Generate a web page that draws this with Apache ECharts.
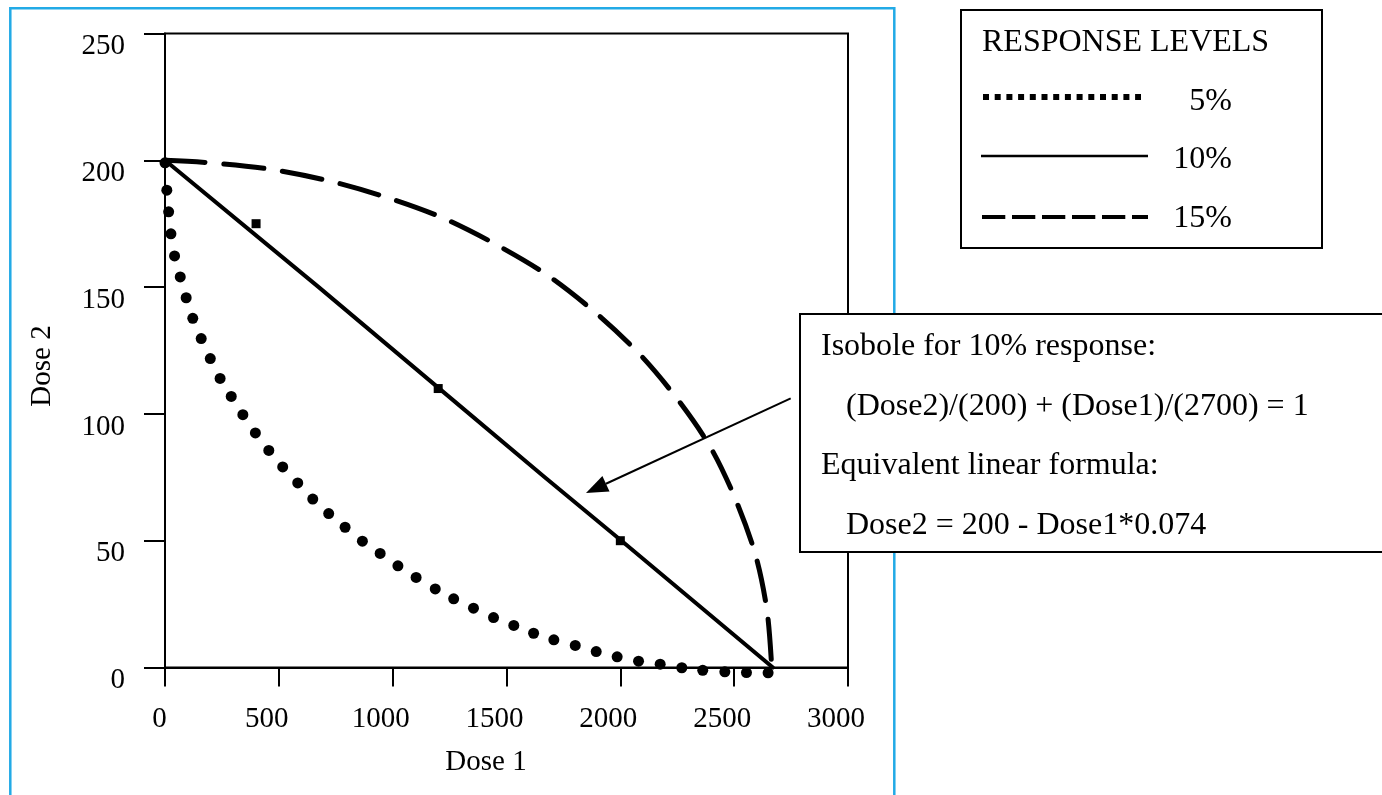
<!DOCTYPE html>
<html><head><meta charset="utf-8">
<script src="https://cdn.jsdelivr.net/npm/echarts@6/dist/echarts.min.js"></script>
<style>html,body{margin:0;padding:0;background:#fff;}#chart{width:1382px;height:795px;}</style>
</head><body><div id="chart"></div>
<script>
// ---- data ----
const xTicks = [0, 500, 1000, 1500, 2000, 2500, 3000];
const yTicks = [0, 50, 100, 150, 200, 250];
const xTitle = 'Dose 1';
const yTitle = 'Dose 2';
const legendTitle = 'RESPONSE LEVELS';
const seriesNames = ['5%', '10%', '15%'];

// 5% isobole (dotted)
const resp5 = [[0,199],[8,188.2],[16,179.7],[26,171],[42,162.3],[67,154],[93,145.8],[122,137.7],[159,129.7],[199,121.8],[242,114],[291,106.9],[342,99.7],[397,92.5],[456,85.6],[517,79.1],[583,72.8],[649,66.4],[719,60.7],[791,55.3],[867,49.8],[945,45],[1023,40.1],[1103,35.5],[1187,31],[1268,27.1],[1355,23.4],[1443,19.7],[1532,16.6],[1619,13.5],[1708,10.9],[1802,8.7],[1894,6.3],[1986,4.2],[2080,2.5],[2175,1.3],[2270,-0.1],[2362,-1.1],[2459,-1.7],[2554,-2],[2649,-2.1]];
// 10% isobole (solid)
const resp10 = [[0,200],[675,150],[1337,100],[1668,75],[2005,50],[2670,0]];
// observed points near the 10% line
const obs10 = [[400,175],[1200,110],[2000,50]];
// 15% isobole (dashed)
const resp15 = [[0,200],[200,199],[460,196.5],[715,192],[970,185.5],[1215,177.5],[1450,167],[1675,155],[1890,140],[2080,124],[2245,106.5],[2395,87],[2505,66.5],[2595,44],[2645,22],[2665,0]];

const noteLines = ['Isobole for 10% response:', '(Dose2)/(200) + (Dose1)/(2700) = 1', 'Equivalent linear formula:', 'Dose2 = 200 - Dose1*0.074'];

// ---- chart ----
const FONT = '"Liberation Serif", "Times New Roman", serif';
const chart = echarts.init(document.getElementById('chart'), null, {renderer: 'canvas'});

function txt(text, x, y, size, align, extra) {
  return Object.assign({
    type: 'text', x: x, y: y, z: 120,
    style: {text: text, fontSize: size, fontFamily: FONT, fill: '#000',
      align: align, textAlign: align, verticalAlign: 'middle', textVerticalAlign: 'middle'}
  }, extra || {});
}

const tip = [586, 493], tail = [790.7, 398.3];
const dx = tail[0] - tip[0], dy = tail[1] - tip[1], L = Math.hypot(dx, dy);
const ux = dx / L, uy = dy / L, ah = 22, aw = 8.5;
const bx = tip[0] + ux * ah, by = tip[1] + uy * ah;

const option = {
  animation: false,
  backgroundColor: '#fff',
  grid: {left: 165, top: 33.5, width: 683, height: 634, show: true, borderColor: '#000', borderWidth: 2, backgroundColor: 'transparent'},
  xAxis: {
    type: 'value', min: xTicks[0], max: xTicks[xTicks.length - 1], interval: xTicks[1] - xTicks[0],
    axisLine: {show: true, onZero: false, lineStyle: {color: '#000', width: 2}},
    axisTick: {show: true, inside: false, length: 19, lineStyle: {color: '#000', width: 2}},
    splitLine: {show: false},
    axisLabel: {color: '#000', fontSize: 29, fontFamily: FONT, margin: 52, verticalAlign: 'middle', padding: [0, 24, 0, 0],
      formatter: v => v === 0 ? '{z|0}' : String(v),
      rich: {z: {color: '#000', fontSize: 29, fontFamily: FONT, padding: [0, 0, 0, 13]}}}
  },
  yAxis: {
    type: 'value', min: yTicks[0], max: yTicks[yTicks.length - 1], interval: yTicks[1] - yTicks[0],
    axisLine: {show: true, onZero: false, lineStyle: {color: '#000', width: 2}},
    axisTick: {show: true, inside: false, length: 21, lineStyle: {color: '#000', width: 2}},
    splitLine: {show: false},
    axisLabel: {color: '#000', fontSize: 29, fontFamily: FONT, margin: 40, verticalAlign: 'top', lineHeight: 26,
      formatter: v => String(v)}
  },
  series: [
    {name: seriesNames[0], type: 'line', data: resp5, clip: false, silent: true,
      symbol: 'circle', symbolSize: 11, showSymbol: true, showAllSymbol: true,
      itemStyle: {color: '#000'}, lineStyle: {width: 0, opacity: 0}, z: 3},
    {name: seriesNames[1], type: 'line', data: resp10, clip: false, silent: true, symbol: 'none',
      lineStyle: {color: '#000', width: 4, cap: 'round', join: 'round'}, z: 4},
    {name: 'observed', type: 'scatter', data: obs10, silent: true, symbol: 'rect', symbolSize: 9,
      itemStyle: {color: '#000', opacity: 1}, z: 5},
    {name: seriesNames[2], type: 'line', data: resp15, clip: false, silent: true, symbol: 'none', smooth: 0.3,
      lineStyle: {color: '#000', width: 5, type: [40, 19], cap: 'round', join: 'round'}, z: 4}
  ],
  graphic: [
    {type: 'rect', z: 1, shape: {x: 10.3, y: 8.3, width: 884, height: 900},
      style: {fill: 'none', stroke: '#22AAE6', lineWidth: 2.5}},
    // axis titles
    txt(xTitle, 486, 762, 29, 'center'),
    txt(yTitle, 42.5, 366, 29, 'center', {rotation: Math.PI / 2}),
    // legend box
    {type: 'rect', z: 110, shape: {x: 961, y: 10, width: 361, height: 238},
      style: {fill: '#fff', stroke: '#000', lineWidth: 2}},
    txt(legendTitle, 982, 43, 32, 'left'),
    {type: 'line', z: 120, shape: {x1: 983, y1: 97, x2: 1141, y2: 97},
      style: {stroke: '#000', lineWidth: 6, lineDash: [6, 5.7], lineCap: 'butt'}},
    txt(seriesNames[0], 1232, 102, 32, 'right'),
    {type: 'line', z: 120, shape: {x1: 981, y1: 156, x2: 1148, y2: 156},
      style: {stroke: '#000', lineWidth: 2.5}},
    txt(seriesNames[1], 1232, 160, 32, 'right'),
    {type: 'line', z: 120, shape: {x1: 982, y1: 217, x2: 1148, y2: 217},
      style: {stroke: '#000', lineWidth: 4, lineDash: [23.3, 6.7], lineCap: 'butt'}},
    txt(seriesNames[2], 1232, 219, 32, 'right'),
    // note box
    {type: 'rect', z: 110, shape: {x: 800, y: 314, width: 620, height: 238},
      style: {fill: '#fff', stroke: '#000', lineWidth: 2}},
    txt(noteLines[0], 821, 347, 32, 'left'),
    txt(noteLines[1], 846, 407, 32, 'left'),
    txt(noteLines[2], 821, 466, 32, 'left'),
    txt(noteLines[3], 846, 526, 32, 'left'),
    // arrow
    {type: 'line', z: 115, shape: {x1: tail[0], y1: tail[1], x2: bx, y2: by},
      style: {stroke: '#000', lineWidth: 2}},
    {type: 'polygon', z: 115, shape: {points: [tip, [bx - uy * aw, by + ux * aw], [bx + uy * aw, by - ux * aw]]},
      style: {fill: '#000'}}
  ]
};
chart.setOption(option);
</script>
</body></html>
